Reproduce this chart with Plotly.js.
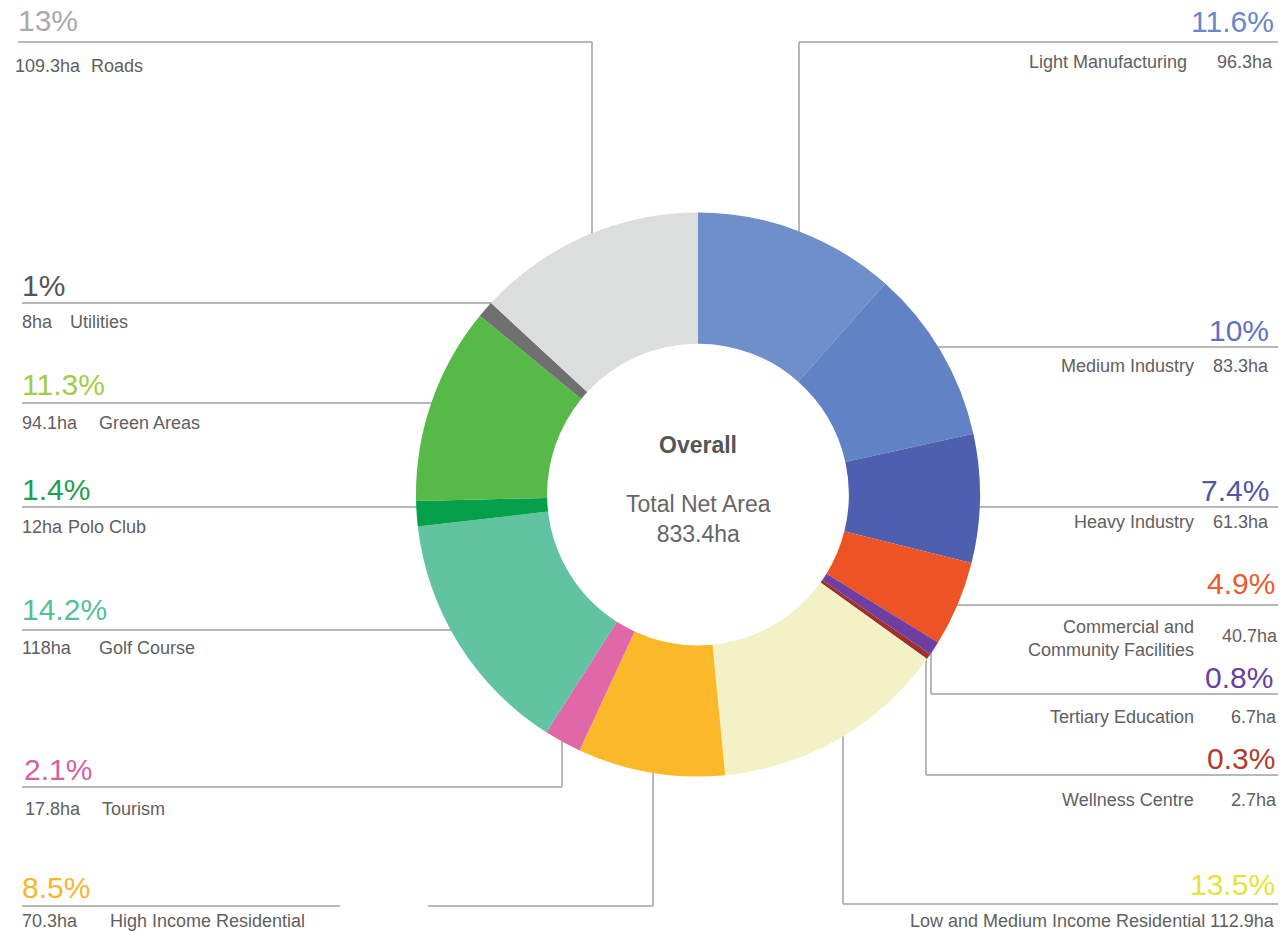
<!DOCTYPE html>
<html>
<head>
<meta charset="utf-8">
<script src="https://cdn.plot.ly/plotly-3.0.1.min.js"></script>
<style>
  html, body { margin: 0; padding: 0; background: #ffffff; overflow: hidden; }
  #chart { width: 1287px; height: 933px; }
</style>
</head>
<body>
<div id="chart"></div>
<script>
// ---------- DATA ----------
const categories = [
  "Light Manufacturing", "Medium Industry", "Heavy Industry",
  "Commercial and Community Facilities", "Tertiary Education", "Wellness Centre",
  "Low and Medium Income Residential", "High Income Residential", "Tourism",
  "Golf Course", "Polo Club", "Green Areas", "Utilities", "Roads"
];
const areasHa = [96.3, 83.3, 61.3, 40.7, 6.7, 2.7, 112.9, 70.3, 17.8, 118, 12, 94.1, 8, 109.3];
const pctLabels = ["11.6%", "10%", "7.4%", "4.9%", "0.8%", "0.3%", "13.5%", "8.5%", "2.1%", "14.2%", "1.4%", "11.3%", "1%", "13%"];
const centerTitle = "Overall";
const centerSub = "Total Net Area";
const totalLabel = "833.4ha";

// ---------- STYLE ----------
const sliceColors = ["#6f8fcb", "#6282c6", "#4f5fb0", "#ee5325", "#6e3fa0", "#a0302a",
  "#f3f2c6", "#fbb829", "#e067a8", "#62c3a0", "#06a04c", "#57b947", "#707070", "#dcdedd"];
const pctColors = ["#6c87c6", "#5f73c0", "#4f56a8", "#ef5a2a", "#6b3fa0", "#b23a2a",
  "#e5e33a", "#f8b62c", "#d462a4", "#55bf98", "#1e9e50", "#a3cc45", "#555555", "#aaaaaa"];

const W = 1287, H = 933;
const X = px => px / W;
const Y = py => 1 - py / H;

// pie geometry (pixels)
const cx = 698, cy = 494.5, R = 282;

// label placement (pixels) per category index
const labelPos = [
  {side: "r", pctX: 1276, pctY: 22,  nameX: 1189, nameY: 62,  areaX: 1275, areaY: 62},
  {side: "r", pctX: 1271, pctY: 330, nameX: 1196, nameY: 366, areaX: 1271, areaY: 366},
  {side: "r", pctX: 1271, pctY: 490, nameX: 1196, nameY: 522, areaX: 1271, areaY: 522},
  {side: "r", pctX: 1277, pctY: 583, nameX: 1196, nameY: 638, areaX: 1280, areaY: 636, br: true},
  {side: "r", pctX: 1275, pctY: 677, nameX: 1196, nameY: 717, areaX: 1279, areaY: 717},
  {side: "r", pctX: 1277, pctY: 758, nameX: 1196, nameY: 800, areaX: 1279, areaY: 800},
  {side: "r", pctX: 1277, pctY: 884, nameX: 1207, nameY: 921, areaX: 1277, areaY: 921},
  {side: "l", pctX: 20, pctY: 887, nameX: 108, nameY: 921, areaX: 20, areaY: 921},
  {side: "l", pctX: 22, pctY: 769, nameX: 100, nameY: 809, areaX: 23, areaY: 809},
  {side: "l", pctX: 20, pctY: 609, nameX: 97,  nameY: 648, areaX: 20, areaY: 648},
  {side: "l", pctX: 20, pctY: 489, nameX: 66,  nameY: 527, areaX: 20, areaY: 527},
  {side: "l", pctX: 20, pctY: 384, nameX: 97,  nameY: 423, areaX: 20, areaY: 423},
  {side: "l", pctX: 20, pctY: 285, nameX: 68,  nameY: 322, areaX: 20, areaY: 322},
  {side: "l", pctX: 16, pctY: 20,  nameX: 89,  nameY: 66,  areaX: 13, areaY: 66}
];

// leader lines (pixels): polylines
const leaders = [
  [[799, 240], [799, 42], [1278, 42]],
  [[930, 347], [1278, 347]],
  [[972, 507], [1278, 507]],
  [[950, 605], [1278, 605]],
  [[931, 648], [931, 694], [1278, 694]],
  [[926, 655], [926, 775], [1278, 775]],
  [[843, 730], [843, 904], [1278, 904]],
  [[653, 770], [653, 906], [428, 906]],
  [[562, 735], [562, 787], [22, 787]],
  [[458, 630], [22, 630]],
  [[425, 507], [22, 507]],
  [[440, 403], [22, 403]],
  [[495, 303], [22, 303]],
  [[592, 240], [592, 42], [18, 42]]
];
const extraSegments = [[[340, 906], [22, 906]]];

const FONT = "Liberation Sans, Arial, Helvetica, sans-serif";
const LINE = "#b8b8b8";
const LABEL_SIZE = 18;
const PCT_SIZE = 30;

const shapes = [];
[...leaders, ...extraSegments].forEach(pts => {
  for (let k = 0; k < pts.length - 1; k++) {
    shapes.push({
      type: "line", xref: "paper", yref: "paper", layer: "below",
      x0: X(pts[k][0]), y0: Y(pts[k][1]), x1: X(pts[k + 1][0]), y1: Y(pts[k + 1][1]),
      line: {color: LINE, width: 2}
    });
  }
});

const annotations = [];
categories.forEach((name, i) => {
  const p = labelPos[i];
  const anchor = p.side === "r" ? "right" : "left";
  annotations.push({
    xref: "paper", yref: "paper", x: X(p.pctX), y: Y(p.pctY),
    xanchor: anchor, yanchor: "middle", showarrow: false,
    text: pctLabels[i], font: {family: FONT, size: PCT_SIZE, color: pctColors[i]}
  });
  const nameText = p.br ? name.replace(" and ", " and<br>") : name;
  annotations.push({
    xref: "paper", yref: "paper", x: X(p.nameX), y: Y(p.nameY),
    xanchor: anchor, yanchor: "middle", showarrow: false,
    align: anchor,
    text: nameText, font: {family: FONT, size: LABEL_SIZE, color: "#606060"}
  });
  annotations.push({
    xref: "paper", yref: "paper", x: X(p.areaX), y: Y(p.areaY),
    xanchor: anchor, yanchor: "middle", showarrow: false,
    text: areasHa[i] + "ha", font: {family: FONT, size: LABEL_SIZE, color: "#606060"}
  });
});

// centre text
annotations.push({
  xref: "paper", yref: "paper", x: X(cx), y: Y(445), xanchor: "center", yanchor: "middle",
  showarrow: false, text: "<b>" + centerTitle + "</b>",
  font: {family: FONT, size: 23, color: "#555555"}
});
annotations.push({
  xref: "paper", yref: "paper", x: X(cx), y: Y(519), xanchor: "center", yanchor: "middle",
  showarrow: false, text: centerSub + "<br>" + totalLabel,
  font: {family: FONT, size: 23, color: "#666666"}
});

const trace = {
  type: "pie",
  labels: categories,
  values: areasHa,
  sort: false,
  direction: "clockwise",
  rotation: 0,
  hole: 0.535,
  textinfo: "none",
  hoverinfo: "label+value+percent",
  marker: {colors: sliceColors, line: {width: 0}},
  domain: {x: [X(cx - R), X(cx + R)], y: [1 - (cy + R) / H, 1 - (cy - R) / H]},
  showlegend: false
};

const layout = {
  width: W, height: H,
  margin: {l: 0, r: 0, t: 0, b: 0},
  paper_bgcolor: "#ffffff",
  plot_bgcolor: "#ffffff",
  showlegend: false,
  shapes: shapes,
  annotations: annotations
};

Plotly.newPlot("chart", [trace], layout, {displayModeBar: false, staticPlot: true});
</script>
</body>
</html>
